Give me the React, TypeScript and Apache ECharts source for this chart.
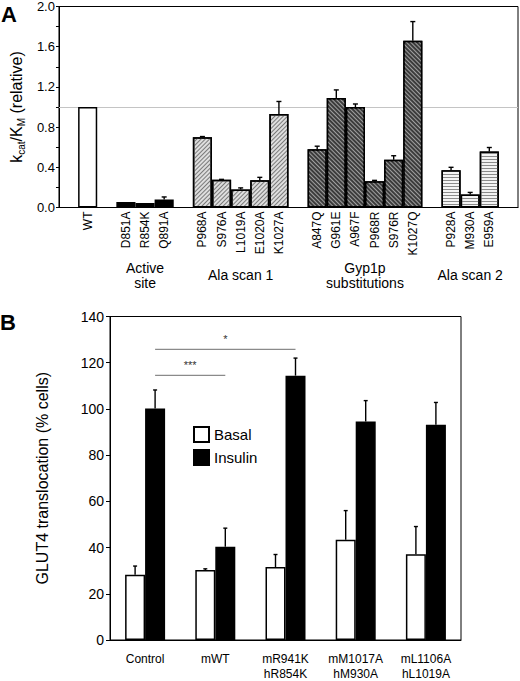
import React, { useEffect, useRef } from "react";
import * as echarts from "echarts";

// ---------- Panel A data ----------
const categoriesA = ["", "WT", "", "D851A", "R854K", "Q891A", "", "P968A", "S976A", "L1019A", "E1020A", "K1027A", "", "A847Q", "G961E", "A967F", "P968R", "S976R", "K1027Q", "", "P928A", "M930A", "E959A", ""];
const valuesA: (number | null)[] = [null, 1.0, null, 0.055, 0.045, 0.08, null, 0.7, 0.275, 0.18, 0.27, 0.93, null, 0.58, 1.09, 1.0, 0.26, 0.475, 1.66, null, 0.37, 0.13, 0.557, null];
const errorsA: (number | null)[] = [null, 0, null, 0, 0, 0.025, null, 0.006, 0.005, 0.015, 0.03, 0.125, null, 0.03, 0.08, 0.03, 0.01, 0.04, 0.19, null, 0.03, 0.02, 0.04, null];
const groupOfA = [-1, 0, -1, 1, 1, 1, -1, 2, 2, 2, 2, 2, -1, 3, 3, 3, 3, 3, 3, -1, 4, 4, 4, -1];
const groupNamesA = ["", "Active\nsite", "Ala scan 1", "Gyp1p\nsubstitutions", "Ala scan 2"];
const referenceA = 1.0;

// ---------- Panel B data ----------
const categoriesB = ["Control", "mWT", "mR941K\nhR854K", "mM1017A\nhM930A", "mL1106A\nhL1019A"];
const basal = [28.2, 30.3, 31.6, 43.4, 37.1];
const basalErr = [3.8, 0.5, 5.4, 12.6, 12.0];
const insulin = [100.2, 40.4, 114.4, 94.6, 93.1];
const insulinErr = [8.0, 8.0, 7.6, 9.0, 9.7];
const sigPairs: [number, number, number, string][] = [
  [0, 1, 114.5, "***"],
  [0, 2, 125.8, "*"],
];

const FONT = "'Liberation Sans', Arial, Helvetica, sans-serif";

const groupStyles = [
  { color: "#ffffff", decal: null },
  { color: "#000000", decal: null },
  { color: "#dedede", decal: { symbol: "rect", symbolSize: 1, color: "#7a7a7a", dashArrayX: [1, 0], dashArrayY: [1, 2], rotation: -Math.PI / 4 } },
  { color: "#3c3c3c", decal: { symbol: "rect", symbolSize: 1, color: "#a0a0a0", dashArrayX: [1, 0], dashArrayY: [1, 2], rotation: Math.PI / 4 } },
  { color: "#f4f4f4", decal: { symbol: "rect", symbolSize: 1, color: "#8c8c8c", dashArrayX: [1, 0], dashArrayY: [1, 2], rotation: 0 } },
];

export default function App() {
  const ref = useRef<HTMLDivElement>(null);
  useEffect(() => {
    if (!ref.current) return;
    const chart = echarts.init(ref.current, null, { renderer: "svg" });

    const barSeriesA = groupStyles.map((gs, g) => {
      const s: any = {
        type: "bar",
        xAxisIndex: 0,
        yAxisIndex: 0,
        barCategoryGap: "0%",
        barGap: "-100%",
        data: valuesA.map((v, i) => (groupOfA[i] === g ? v : null)),
        itemStyle: { color: gs.color, borderColor: "#000", borderWidth: 1.5 },
        silent: true,
        z: 2,
      };
      if (gs.decal) s.itemStyle.decal = gs.decal;
      if (g === 0) {
        s.markLine = {
          silent: true,
          symbol: "none",
          label: { show: false },
          lineStyle: { color: "#c4c4c4", type: "solid", width: 1 },
          data: [{ yAxis: referenceA }],
          z: 1,
        };
      }
      return s;
    });

    const errDataA = valuesA
      .map((v, i) => (v != null && errorsA[i] ? [i, v, errorsA[i]] : null))
      .filter((d) => d !== null);

    const errRender = (offset: number, cap: number) => (params: any, api: any) => {
      const i = api.value(0);
      const v = api.value(1);
      const e = api.value(2);
      const p0 = api.coord([i, v]);
      const p1 = api.coord([i, v + e]);
      const x = p0[0] + offset;
      return {
        type: "group",
        children: [
          { type: "line", shape: { x1: x, y1: p0[1], x2: x, y2: p1[1] }, style: { stroke: "#000", lineWidth: 1.4 } },
          { type: "line", shape: { x1: x - cap, y1: p1[1], x2: x + cap, y2: p1[1] }, style: { stroke: "#000", lineWidth: 1.4 } },
        ],
      };
    };

    const basalErrData = basal.map((v, i) => [i, v, basalErr[i]]);
    const insulinErrData = insulin.map((v, i) => [i, v, insulinErr[i]]);

    const option: any = {
      animation: false,
      textStyle: { fontFamily: FONT, color: "#000" },
      grid: [
        { left: 51, top: 6, width: 467, height: 201.5, show: true, borderColor: "#000", borderWidth: 1, backgroundColor: "transparent" },
        { left: 110, top: 316.5, width: 351, height: 326.5, show: true, borderColor: "#000", borderWidth: 1, backgroundColor: "transparent" },
      ],
      xAxis: [
        {
          type: "category",
          gridIndex: 0,
          data: categoriesA,
          axisLine: { lineStyle: { color: "#000", width: 1 } },
          axisTick: { show: false },
          axisLabel: { rotate: 90, interval: 0, fontSize: 12, color: "#000", margin: 4, fontFamily: FONT },
        },
        {
          type: "category",
          gridIndex: 1,
          data: categoriesB,
          axisLine: { lineStyle: { color: "#000", width: 1 } },
          axisTick: { show: false },
          axisLabel: { interval: 0, fontSize: 12, lineHeight: 15, color: "#000", margin: 11, fontFamily: FONT },
        },
      ],
      yAxis: [
        {
          type: "value",
          gridIndex: 0,
          min: 0,
          max: 2,
          interval: 0.2,
          splitLine: { show: false },
          axisLine: { show: true, lineStyle: { color: "#000" } },
          axisTick: { show: true, length: 3, lineStyle: { color: "#000" } },
          axisLabel: {
            fontSize: 13,
            color: "#000",
            margin: 4,
            fontFamily: FONT,
            formatter: (v: number) => (Math.round(v * 10) % 4 === 0 ? v.toFixed(1) : ""),
          },
          name: "{a|k}{s|cat}{a|/K}{s|M}{a| (relative)}",
          nameLocation: "middle",
          nameGap: 31,
          nameTextStyle: {
            rich: {
              a: { fontSize: 16, fontFamily: FONT, color: "#000", lineHeight: 20, verticalAlign: "middle" },
              s: { fontSize: 10, fontFamily: FONT, color: "#000", lineHeight: 10, verticalAlign: "bottom" },
            },
          },
        },
        {
          type: "value",
          gridIndex: 1,
          min: 0,
          max: 140,
          interval: 20,
          splitLine: { show: false },
          axisLine: { show: true, lineStyle: { color: "#000" } },
          axisTick: { show: true, length: 4, lineStyle: { color: "#000" } },
          axisLabel: { fontSize: 14, color: "#000", margin: 6, fontFamily: FONT },
          name: "GLUT4 translocation (% cells)",
          nameLocation: "middle",
          nameGap: 60,
          nameTextStyle: { fontSize: 16, fontFamily: FONT, color: "#000" },
        },
      ],
      legend: {
        left: 188,
        top: 421,
        orient: "vertical",
        icon: "rect",
        itemWidth: 15,
        itemHeight: 15,
        itemGap: 6,
        data: ["Basal", "Insulin"],
        textStyle: { fontSize: 15, fontFamily: FONT, color: "#000" },
        selectedMode: false,
      },
      series: [
        ...barSeriesA,
        {
          type: "custom",
          xAxisIndex: 0,
          yAxisIndex: 0,
          renderItem: errRender(0, 2.5),
          data: errDataA,
          encode: { x: 0, y: 1 },
          silent: true,
          z: 3,
        },
        {
          name: "Basal",
          type: "bar",
          xAxisIndex: 1,
          yAxisIndex: 1,
          data: basal,
          barWidth: 20,
          barGap: "0%",
          itemStyle: { color: "#fff", borderColor: "#000", borderWidth: 1.5 },
          silent: true,
        },
        {
          name: "Insulin",
          type: "bar",
          xAxisIndex: 1,
          yAxisIndex: 1,
          data: insulin,
          barWidth: 20,
          barGap: "0%",
          itemStyle: { color: "#000", borderColor: "#000", borderWidth: 1.5 },
          silent: true,
        },
        {
          type: "custom",
          xAxisIndex: 1,
          yAxisIndex: 1,
          renderItem: errRender(-10, 2),
          data: basalErrData,
          encode: { x: 0, y: 1 },
          silent: true,
          z: 3,
        },
        {
          type: "custom",
          xAxisIndex: 1,
          yAxisIndex: 1,
          renderItem: errRender(10, 2),
          data: insulinErrData,
          encode: { x: 0, y: 1 },
          silent: true,
          z: 3,
        },
        {
          type: "custom",
          xAxisIndex: 1,
          yAxisIndex: 1,
          data: sigPairs.map((p) => [p[0], p[2], p[1], p[3]]),
          encode: { x: 0, y: 1 },
          silent: true,
          renderItem: (params: any, api: any) => {
            const d = sigPairs[params.dataIndex];
            const a = api.coord([d[0], d[2]]);
            const b = api.coord([d[1], d[2]]);
            const x1 = a[0] + 10;
            const x2 = b[0] + 10;
            return {
              type: "group",
              children: [
                { type: "line", shape: { x1, y1: a[1], x2, y2: a[1] }, style: { stroke: "#8a8a8a", lineWidth: 1.3 } },
                {
                  type: "text",
                  x: (x1 + x2) / 2,
                  y: a[1] - 5,
                  style: { text: d[3], fontSize: 11, fontFamily: FONT, fill: "#333", align: "center", verticalAlign: "bottom" },
                },
              ],
            };
          },
        },
      ],
    };

    chart.setOption(option);

    // group labels under panel A, centred on each group's categories
    const graphics: any[] = [
      { type: "text", left: 1, top: 3, style: { text: "A", fontSize: 22, fontWeight: "bold", fontFamily: FONT, fill: "#000" } },
      { type: "text", left: 0, top: 311, style: { text: "B", fontSize: 22, fontWeight: "bold", fontFamily: FONT, fill: "#000" } },
    ];
    groupNamesA.forEach((name, g) => {
      if (!name) return;
      const idx = groupOfA.map((gg, i) => (gg === g ? i : -1)).filter((i) => i >= 0);
      const xs = idx.map((i) => chart.convertToPixel({ xAxisIndex: 0 } as any, i) as unknown as number);
      const cx = (Math.min(...xs) + Math.max(...xs)) / 2;
      graphics.push({
        type: "text",
        x: cx,
        y: 275,
        style: { text: name, fontSize: 14, lineHeight: 15, fontFamily: FONT, fill: "#000", align: "center", verticalAlign: "middle" },
      });
    });
    chart.setOption({ graphic: graphics });

    return () => chart.dispose();
  }, []);

  return <div ref={ref} style={{ position: "absolute", left: 0, top: 0, width: 520, height: 681 }} />;
}
